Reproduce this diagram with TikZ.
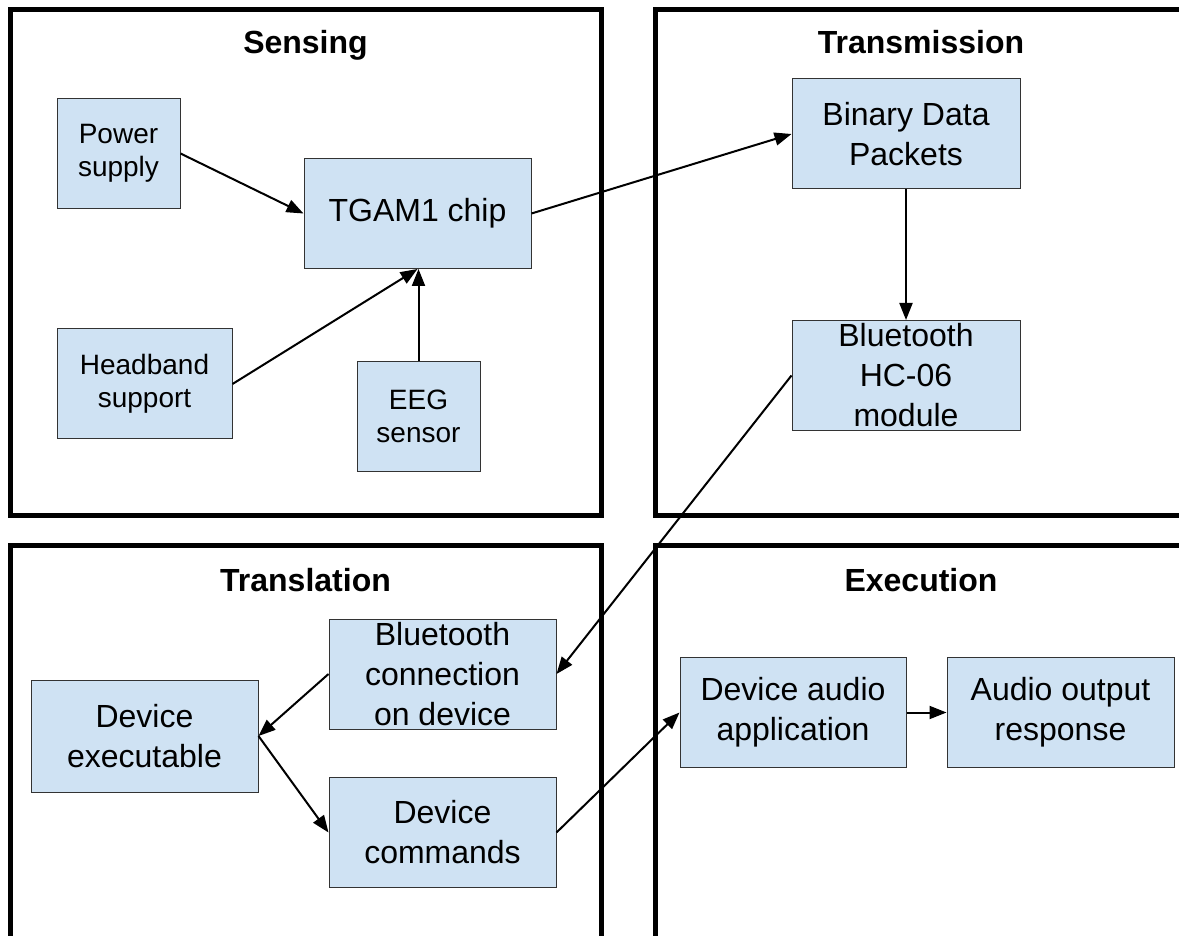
\documentclass[tikz,border=0pt]{standalone}
\usepackage{fontspec}
\setmainfont{Liberation Sans}
\usetikzlibrary{arrows.meta}
\definecolor{boxblue}{HTML}{CFE2F3}

\begin{document}
\begin{tikzpicture}[x=0.5pt, y=-0.5pt]
  \tikzset{
    stage/.style={line width=2.5pt, draw=black},
    title/.style={anchor=base, font=\fontsize{16}{20}\selectfont\bfseries},
    block/.style={draw=black!80, line width=0.5pt, fill=boxblue, align=center, inner sep=0pt, font=\fontsize{16}{20}\selectfont, minimum height=55pt},
    small block/.style={block, font=\fontsize{14}{16.5}\selectfont},
    link/.style={line width=1pt, -{Triangle[length=8.5pt, width=6.5pt]}}
  }

  \clip (0,0) rectangle (1179,936);

  % Stage frames
  \draw[stage] (10,10) rectangle (601,515);
  \draw[stage] (655,10) rectangle (1200,515);
  \draw[stage] (10,545) rectangle (601,950);
  \draw[stage] (655,545) rectangle (1200,950);

  \node[title] (sensing) at (305.5,54) {Sensing};
  \node[title] (transmission) at (921,54) {Transmission};
  \node[title] (translation) at (305.5,591) {Translation};
  \node[title] (execution) at (921,591) {Execution};

  % Sensing
  \node[small block, minimum width=61.5pt] (power) at (118.5,153.5) {Power\\supply};
  \node[block, minimum width=113.5pt] (tgam) at (417.5,213.5) {TGAM1 chip};
  \node[small block, minimum width=87.5pt] (headband) at (144.5,384) {Headband\\support};
  \node[small block, minimum width=61.5pt] (eeg) at (418.5,416.5) {EEG\\sensor};

  % Transmission
  \node[block, minimum width=114pt] (packets) at (906,134) {Binary Data\\Packets};
  \node[block, minimum width=114pt] (hc06) at (906,375.5) {Bluetooth\\HC-06\\module};

  % Translation
  \node[block, minimum width=113.5pt] (btconn) at (442.5,674) {Bluetooth\\connection\\on device};
  \node[block, minimum width=113.5pt, minimum height=56pt] (executable) at (144.5,736) {Device\\executable};
  \node[block, minimum width=113.5pt] (commands) at (442.5,832.5) {Device\\commands};

  % Execution
  \node[block, minimum width=113pt] (audioapp) at (793,712.5) {Device audio\\application};
  \node[block, minimum width=113.5pt] (audioout) at (1060.5,712.5) {Audio output\\response};

  % Connectors
  \draw[link] (power.east) -- (tgam.west);
  \draw[link] (headband.east) -- (tgam.south);
  \draw[link] (eeg.north) -- (eeg.north |- tgam.south);
  \draw[link] (tgam.east) -- (packets.west);
  \draw[link] (packets.south) -- (hc06.north);
  \draw[link] (hc06.west) -- (btconn.east);
  \draw[link] (btconn.west) -- (executable.east);
  \draw[link] (executable.east) -- (commands.west);
  \draw[link] (commands.east) -- (audioapp.west);
  \draw[link] (audioapp.east) -- (audioout.west);
\end{tikzpicture}
\end{document}
